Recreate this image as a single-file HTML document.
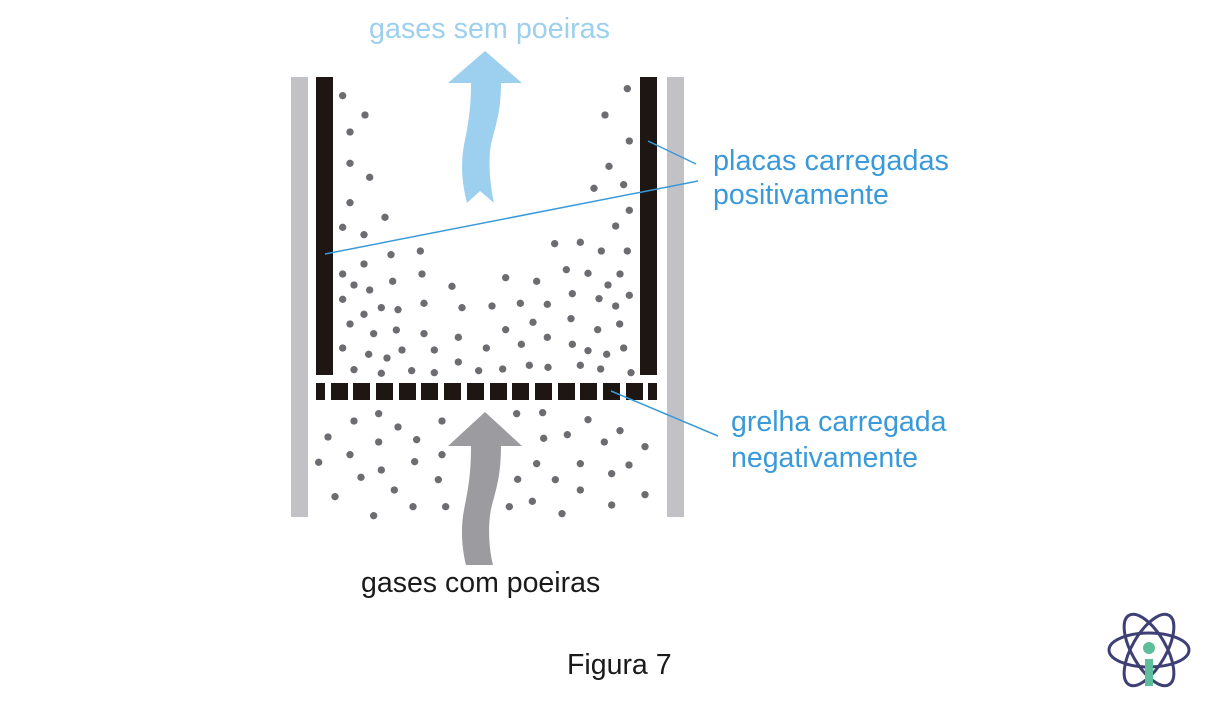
<!DOCTYPE html>
<html><head><meta charset="utf-8"><style>
html,body{margin:0;padding:0;background:#fff;}
svg{display:block;font-family:"Liberation Sans",Arial,sans-serif;}
</style></head><body>
<svg width="1212" height="706" viewBox="0 0 1212 706" xmlns="http://www.w3.org/2000/svg">
<rect x="291" y="77" width="17" height="440" fill="#c2c1c6"/>
<rect x="667" y="77" width="17" height="440" fill="#c2c1c6"/>
<rect x="316" y="77" width="17" height="298" fill="#1e1612"/>
<rect x="640" y="77" width="17" height="298" fill="#1e1612"/>
<g fill="#1e1612">
<rect x="316" y="383" width="9" height="17"/><rect x="331" y="383" width="17" height="17"/><rect x="353" y="383" width="17" height="17"/><rect x="376" y="383" width="17" height="17"/><rect x="399" y="383" width="17" height="17"/><rect x="421" y="383" width="17" height="17"/><rect x="444" y="383" width="17" height="17"/><rect x="467" y="383" width="17" height="17"/><rect x="490" y="383" width="17" height="17"/><rect x="512" y="383" width="17" height="17"/><rect x="535" y="383" width="17" height="17"/><rect x="558" y="383" width="17" height="17"/><rect x="580" y="383" width="17" height="17"/><rect x="603" y="383" width="17" height="17"/><rect x="626" y="383" width="17" height="17"/><rect x="648" y="383" width="9" height="17"/>
</g>
<g transform="translate(280 60) scale(0.33333)" fill="#6d6c70">
<circle cx="188" cy="107" r="11"/><circle cx="255" cy="165" r="11"/><circle cx="210" cy="216" r="11"/><circle cx="210" cy="310" r="11"/><circle cx="269" cy="352" r="11"/><circle cx="210" cy="428" r="11"/><circle cx="315" cy="472" r="11"/><circle cx="188" cy="502" r="11"/><circle cx="252" cy="524" r="11"/><circle cx="1042" cy="86" r="11"/><circle cx="975" cy="165" r="11"/><circle cx="1048" cy="243" r="11"/><circle cx="987" cy="319" r="11"/><circle cx="942" cy="385" r="11"/><circle cx="1031" cy="374" r="11"/><circle cx="1048" cy="451" r="11"/><circle cx="1007" cy="498" r="11"/><circle cx="824" cy="551" r="11"/><circle cx="901" cy="547" r="11"/><circle cx="964" cy="573" r="11"/><circle cx="1042" cy="573" r="11"/>
<circle cx="333" cy="584" r="11"/><circle cx="421" cy="573" r="11"/><circle cx="252" cy="612" r="11"/><circle cx="188" cy="642" r="11"/><circle cx="426" cy="642" r="11"/><circle cx="222" cy="675" r="11"/><circle cx="338" cy="664" r="11"/><circle cx="269" cy="690" r="11"/><circle cx="516" cy="679" r="11"/><circle cx="677" cy="653" r="11"/><circle cx="770" cy="664" r="11"/><circle cx="859" cy="629" r="11"/><circle cx="924" cy="640" r="11"/><circle cx="1020" cy="642" r="11"/><circle cx="984" cy="675" r="11"/><circle cx="877" cy="701" r="11"/><circle cx="957" cy="716" r="11"/><circle cx="1048" cy="706" r="11"/><circle cx="1007" cy="738" r="11"/><circle cx="188" cy="718" r="11"/><circle cx="304" cy="743" r="11"/><circle cx="354" cy="749" r="11"/><circle cx="432" cy="730" r="11"/><circle cx="546" cy="743" r="11"/><circle cx="636" cy="738" r="11"/><circle cx="721" cy="730" r="11"/><circle cx="802" cy="733" r="11"/><circle cx="252" cy="763" r="11"/><circle cx="210" cy="792" r="11"/><circle cx="281" cy="821" r="11"/><circle cx="349" cy="810" r="11"/><circle cx="432" cy="821" r="11"/><circle cx="535" cy="832" r="11"/><circle cx="677" cy="809" r="11"/><circle cx="759" cy="787" r="11"/><circle cx="873" cy="776" r="11"/><circle cx="953" cy="809" r="11"/><circle cx="1019" cy="792" r="11"/><circle cx="802" cy="832" r="11"/><circle cx="724" cy="853" r="11"/><circle cx="619" cy="864" r="11"/><circle cx="877" cy="853" r="11"/><circle cx="924" cy="872" r="11"/><circle cx="980" cy="883" r="11"/><circle cx="1031" cy="864" r="11"/><circle cx="188" cy="864" r="11"/><circle cx="266" cy="883" r="11"/><circle cx="321" cy="894" r="11"/><circle cx="366" cy="870" r="11"/><circle cx="463" cy="870" r="11"/><circle cx="222" cy="929" r="11"/><circle cx="304" cy="940" r="11"/><circle cx="395" cy="932" r="11"/><circle cx="463" cy="938" r="11"/><circle cx="535" cy="906" r="11"/><circle cx="596" cy="932" r="11"/><circle cx="668" cy="927" r="11"/><circle cx="748" cy="916" r="11"/><circle cx="804" cy="922" r="11"/><circle cx="901" cy="916" r="11"/><circle cx="962" cy="927" r="11"/><circle cx="1053" cy="938" r="11"/>
<circle cx="296" cy="1061" r="11"/><circle cx="222" cy="1083" r="11"/><circle cx="354" cy="1101" r="11"/><circle cx="486" cy="1083" r="11"/><circle cx="144" cy="1131" r="11"/><circle cx="296" cy="1146" r="11"/><circle cx="410" cy="1139" r="11"/><circle cx="210" cy="1184" r="11"/><circle cx="116" cy="1207" r="11"/><circle cx="404" cy="1205" r="11"/><circle cx="486" cy="1184" r="11"/><circle cx="304" cy="1230" r="11"/><circle cx="243" cy="1252" r="11"/><circle cx="475" cy="1259" r="11"/><circle cx="165" cy="1310" r="11"/><circle cx="343" cy="1290" r="11"/><circle cx="281" cy="1367" r="11"/><circle cx="399" cy="1340" r="11"/><circle cx="497" cy="1340" r="11"/><circle cx="710" cy="1061" r="11"/><circle cx="788" cy="1058" r="11"/><circle cx="924" cy="1079" r="11"/><circle cx="791" cy="1135" r="11"/><circle cx="862" cy="1124" r="11"/><circle cx="1020" cy="1112" r="11"/><circle cx="973" cy="1146" r="11"/><circle cx="1095" cy="1160" r="11"/><circle cx="770" cy="1211" r="11"/><circle cx="901" cy="1211" r="11"/><circle cx="1047" cy="1215" r="11"/><circle cx="995" cy="1241" r="11"/><circle cx="713" cy="1258" r="11"/><circle cx="826" cy="1259" r="11"/><circle cx="901" cy="1290" r="11"/><circle cx="688" cy="1340" r="11"/><circle cx="757" cy="1324" r="11"/><circle cx="846" cy="1361" r="11"/><circle cx="995" cy="1335" r="11"/><circle cx="1095" cy="1304" r="11"/>
</g>
<path d="M485 51 L522 83 L501 83 C501 110 496 125 492 140 C488 155 489 180 494 203 L480 191 L467 203 C461 180 461 160 464 145 C468 125 471 110 471 83 L448 83 Z" fill="#9dd0ee"/>
<path d="M485 412 L522 446 L501 446 C501 475 496 490 492 505 C488 520 488 545 493 565 L466 565 C461 545 461 525 464 510 C468 490 471 475 471 446 L448 446 Z" fill="#9c9ba0"/>
<g stroke="#3a9ad9" stroke-width="1.5" fill="none">
<line x1="325" y1="254" x2="698" y2="181"/>
<line x1="648" y1="141" x2="696" y2="164"/>
<line x1="611" y1="391" x2="718" y2="436"/>
</g>
<g font-size="28.5" fill="#3a9ad9">
<text x="713" y="170" textLength="236" lengthAdjust="spacingAndGlyphs">placas carregadas</text>
<text x="713" y="204">positivamente</text>
<text x="731" y="431">grelha carregada</text>
<text x="731" y="467">negativamente</text>
</g>
<text x="369" y="38" font-size="28.5" fill="#9dd0ee" textLength="241" lengthAdjust="spacingAndGlyphs">gases sem poeiras</text>
<text x="361" y="592" font-size="28.5" fill="#1a1a1a">gases com poeiras</text>
<text x="567" y="674" font-size="28.5" fill="#1a1a1a">Figura 7</text>
<g transform="translate(1149 650)" fill="none" stroke="#3d3f75" stroke-width="3">
<ellipse rx="40" ry="17"/>
<ellipse rx="40" ry="17" transform="rotate(60)"/>
<ellipse rx="40" ry="17" transform="rotate(-60)"/>
</g>
<circle cx="1149" cy="648" r="6" fill="#5ebd9b"/>
<rect x="1145" y="659" width="8" height="27" fill="#5ebd9b"/>
</svg>
</body></html>
